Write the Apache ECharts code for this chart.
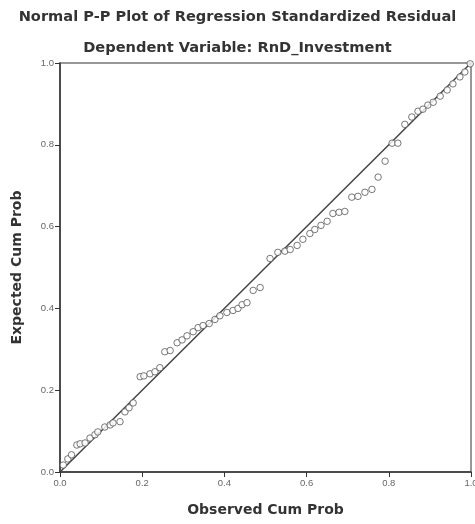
<!DOCTYPE html>
<html>
<head>
<meta charset="utf-8">
<script src="https://cdn.jsdelivr.net/npm/echarts@6/dist/echarts.min.js"></script>
<style>html,body{margin:0;padding:0;background:#fff;}#c{width:475px;height:524px;}</style>
</head>
<body>
<div id="c"></div>
<script>
const titleText = "Normal P-P Plot of Regression Standardized Residual";
const subtitleText = "Dependent Variable: RnD_Investment";
const xAxisName = "Observed Cum Prob";
const yAxisName = "Expected Cum Prob";
const tickLabels = ["0.0", "0.2", "0.4", "0.6", "0.8", "1.0"];
const observed = [0.008,0.019,0.028,0.041,0.049,0.061,0.073,0.085,0.092,0.109,0.122,0.129,0.146,0.158,0.168,0.178,
  0.195,0.204,0.219,0.231,0.243,0.255,0.268,0.285,0.297,0.309,0.324,0.336,0.348,0.363,0.377,0.389,0.406,0.421,0.433,
  0.443,0.455,0.470,0.487,0.511,0.530,0.547,0.560,0.577,0.591,0.608,0.620,0.635,0.650,0.664,0.679,0.693,0.710,0.725,
  0.742,0.759,0.774,0.791,0.808,0.822,0.839,0.856,0.871,0.883,0.895,0.908,0.925,0.942,0.956,0.973,0.985,0.998];
const expected = [0.017,0.032,0.042,0.066,0.069,0.071,0.083,0.091,0.098,0.110,0.115,0.120,0.123,0.147,0.157,0.169,
  0.233,0.235,0.240,0.245,0.255,0.294,0.297,0.316,0.323,0.333,0.343,0.353,0.358,0.363,0.373,0.382,0.390,0.395,0.400,
  0.409,0.414,0.444,0.451,0.522,0.537,0.540,0.544,0.554,0.569,0.583,0.593,0.603,0.613,0.632,0.635,0.637,0.672,0.674,
  0.684,0.691,0.721,0.760,0.804,0.804,0.850,0.868,0.882,0.887,0.897,0.904,0.919,0.934,0.949,0.966,0.978,0.998];
const refLine = [[0, 0], [1, 1]];

const font = "DejaVu Sans, Arial, sans-serif";
const tickFont = "Liberation Sans, Arial, sans-serif";
const chart = echarts.init(document.getElementById('c'), null, {renderer: 'canvas'});
chart.setOption({
  animation: false,
  backgroundColor: '#ffffff',
  title: [
    {text: titleText, left: 'center', top: 5, textStyle: {fontFamily: font, fontSize: 14.6, fontWeight: 'bold', color: '#333'}},
    {text: subtitleText, left: 'center', top: 36, textStyle: {fontFamily: font, fontSize: 14.6, fontWeight: 'bold', color: '#333'}}
  ],
  grid: {left: 60, right: 4, top: 63, bottom: 52, show: true, borderColor: '#777', borderWidth: 1.5,
         backgroundColor: 'transparent', containLabel: false, outerBoundsMode: 'none'},
  xAxis: {
    type: 'value', min: 0, max: 1, interval: 0.2,
    name: xAxisName, nameLocation: 'middle', nameGap: 31,
    nameTextStyle: {fontFamily: font, fontSize: 14, fontWeight: 'bold', color: '#333'},
    axisLine: {show: true, lineStyle: {color: '#333', width: 1.5}},
    axisTick: {show: true, inside: false, length: 5, lineStyle: {color: '#333'}},
    axisLabel: {fontFamily: tickFont, fontSize: 9.5, color: '#666', margin: 6, formatter: v => tickLabels[Math.round(v * 5)]},
    splitLine: {show: false}
  },
  yAxis: {
    type: 'value', min: 0, max: 1, interval: 0.2,
    name: yAxisName, nameLocation: 'middle', nameGap: 36, nameRotate: 90,
    nameTextStyle: {fontFamily: font, fontSize: 14, fontWeight: 'bold', color: '#333'},
    axisLine: {show: true, lineStyle: {color: '#333', width: 1.5}},
    axisTick: {show: true, inside: false, length: 5, lineStyle: {color: '#333'}},
    axisLabel: {fontFamily: tickFont, fontSize: 9.5, color: '#666', margin: 6, formatter: v => tickLabels[Math.round(v * 5)]},
    splitLine: {show: false}
  },
  series: [
    {
      type: 'line', data: refLine, symbol: 'none', silent: true,
      lineStyle: {color: '#444', width: 1.5}, z: 1
    },
    {
      type: 'scatter', data: observed.map((x, i) => [x, expected[i]]),
      symbol: 'circle', symbolSize: 6.5,
      itemStyle: {color: '#ffffff', borderColor: '#555', borderWidth: 1}, z: 2
    }
  ]
});
</script>
</body>
</html>
